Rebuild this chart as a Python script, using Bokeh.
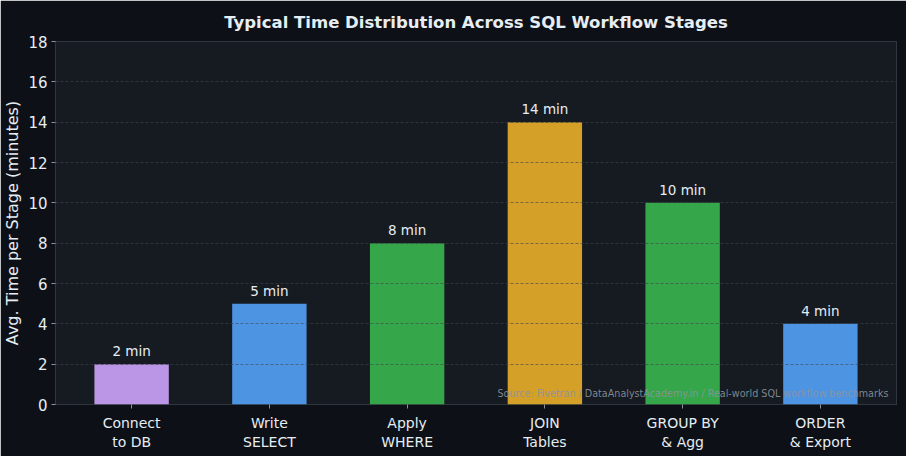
from bokeh.plotting import figure
from bokeh.models import ColumnDataSource, FactorRange, Range1d, Label, FixedTicker
from bokeh.embed import file_html
from bokeh.resources import INLINE

stages = ["Connect\nto DB", "Write\nSELECT", "Apply\nWHERE", "JOIN\nTables", "GROUP BY\n& Agg", "ORDER\n& Export"]
minutes = [2, 5, 8, 14, 10, 4]
colors = ["#bc96e6", "#4d94e3", "#36a64a", "#d4a027", "#36a64a", "#4d94e3"]
value_labels = [f"{m} min" for m in minutes]
y_ticks = [0, 2, 4, 6, 8, 10, 12, 14, 16, 18]

FONT = "DejaVu Sans"
TXT = "#e6edf3"

src = ColumnDataSource(dict(stage=stages, minutes=minutes, color=colors, lab=value_labels))

p = figure(
    width=906, height=456,
    x_range=FactorRange(*stages, range_padding=0.0525, range_padding_units="absolute"),
    y_range=Range1d(0, 18),
    output_backend="svg", toolbar_location=None,
    min_border_left=10, min_border_right=10, min_border_top=41, min_border_bottom=52,
)
p.background_fill_color = "#161b22"
p.border_fill_color = "#0d1117"
p.outline_line_color = "#30363d"

p.title.text = "Typical Time Distribution Across SQL Workflow Stages"
p.title.text_font = FONT
p.title.text_font_size = "16.5px"
p.title.text_font_style = "bold"
p.title.text_color = TXT
p.title.align = "center"
p.title.standoff = 19

p.vbar(x="stage", top="minutes", width=0.54, source=src, fill_color="color", line_color=None)

p.text(x="stage", y="minutes", text="lab", source=src, text_align="center",
       text_baseline="bottom", y_offset=-5, text_font_size="13.5px", text_color=TXT,
       text_font={"value": FONT})

# grid
p.xgrid.grid_line_color = None
p.ygrid.grid_line_color = "#40454e"
p.ygrid.grid_line_alpha = 0.6
p.ygrid.grid_line_dash = "3 2"
p.ygrid.level = "overlay"
p.yaxis.ticker = FixedTicker(ticks=y_ticks)

for ax in (p.xaxis[0], p.yaxis[0]):
    ax.axis_line_color = None
    ax.major_tick_line_color = "#8b949e"
    ax.major_tick_out = 4
    ax.major_tick_in = 0
    ax.minor_tick_line_color = None
    ax.major_label_text_color = TXT
    ax.major_label_text_font = FONT
    ax.major_label_text_font_size = "14px"

p.yaxis.major_label_text_font_size = "15px"
p.xaxis.major_label_standoff = 6
p.yaxis.major_label_standoff = 4
p.yaxis.axis_label = "Avg. Time per Stage (minutes)"
p.yaxis.axis_label_text_font = FONT
p.yaxis.axis_label_text_font_size = "16px"
p.yaxis.axis_label_text_font_style = "normal"
p.yaxis.axis_label_text_color = TXT
p.yaxis.axis_label_standoff = 3

src_label = Label(x=833, y=6, x_units="screen", y_units="screen",
                  text="Source: Fivetran / DataAnalystAcademy.in / Real-world SQL workflow benchmarks",
                  text_align="right", text_baseline="bottom", text_font=FONT, text_font_size="9.6px",
                  text_color="#8b949e", text_alpha=0.9)
p.add_layout(src_label)

open("out.html", "w").write(file_html(p, INLINE))
